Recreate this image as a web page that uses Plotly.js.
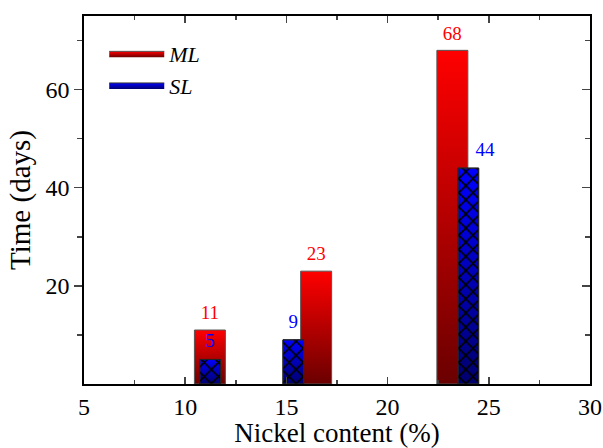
<!DOCTYPE html>
<html>
<head>
<meta charset="utf-8">
<script src="https://cdn.plot.ly/plotly-3.0.1.min.js"></script>
<style>html,body{margin:0;padding:0;background:#fff;}#chart{width:603px;height:448px;}</style>
</head>
<body>
<div id="chart"></div>
<script>
// Data
var mlX = [11.22, 16.47, 23.2];
var mlValues = [11, 23, 68];
var slX = [11.23, 15.34, 23.99];
var slValues = [5, 9, 44];
var seriesNames = ['ML', 'SL'];
var xTickVals = [5, 10, 15, 20, 25, 30];
var yTickVals = [20, 40, 60];

var mlWidth = 1.53, slWidth = 1.02;
var serif = 'Liberation Serif';

function rectX(c, w) { return [c - w/2, c - w/2, c + w/2, c + w/2, c - w/2]; }
function rectY(v) { return [0, v, v, 0, 0]; }

var traces = [];
mlX.forEach(function(c, i) {
  traces.push({
    type: 'scatter', mode: 'lines', x: rectX(c, mlWidth), y: rectY(mlValues[i]),
    fill: 'toself',
    fillgradient: {type: 'vertical', colorscale: [[0, '#6a0000'], [1, '#ff0000']]},
    line: {color: '#555555', width: 1},
    name: '<i>' + seriesNames[0] + '</i>', legendgroup: 'ML', showlegend: i === 0,
    hoverinfo: 'skip'
  });
});
slX.forEach(function(c, i) {
  traces.push({
    type: 'scatter', mode: 'lines', x: rectX(c, slWidth), y: rectY(slValues[i]),
    fill: 'toself',
    fillgradient: {type: 'vertical', colorscale: [[0, '#00006e'], [1, '#0000ff']]},
    line: {color: '#333333', width: 1},
    name: '<i>' + seriesNames[1] + '</i>', legendgroup: 'SL', showlegend: i === 0,
    hoverinfo: 'skip'
  });
  traces.push({
    type: 'scatter', mode: 'lines', x: rectX(c, slWidth), y: rectY(slValues[i]),
    fill: 'toself', fillcolor: 'rgba(0,0,0,0)',
    fillpattern: {shape: 'x', fgcolor: '#000000', bgcolor: 'rgba(0,0,0,0)', size: 10, solidity: 0.3},
    line: {color: '#222222', width: 1},
    legendgroup: 'SL', showlegend: false, hoverinfo: 'skip'
  });
});
traces.push({
  type: 'scatter', mode: 'markers+text', x: mlX, y: mlValues, text: mlValues.map(String),
  marker: {size: 8, opacity: 0},
  textposition: 'top center', textfont: {family: serif, size: 19, color: '#ff0000'},
  showlegend: false, hoverinfo: 'skip', cliponaxis: false
});
traces.push({
  type: 'scatter', mode: 'markers+text', x: slX, y: slValues, text: slValues.map(String),
  marker: {size: 10, opacity: 0},
  textposition: ['top center', 'top center', 'top right'],
  textfont: {family: serif, size: 19, color: '#0000ff'},
  showlegend: false, hoverinfo: 'skip', cliponaxis: false
});
// invisible trace to anchor right axis
traces.push({type: 'scatter', mode: 'lines', x: [5], y: [0], yaxis: 'y2', showlegend: false, hoverinfo: 'skip', line: {width: 0}});

var layout = {
  width: 603, height: 448,
  margin: {l: 84, r: 13, t: 16, b: 64},
  paper_bgcolor: '#ffffff', plot_bgcolor: '#ffffff',
  font: {family: serif, size: 23, color: '#000000'},
  showlegend: true,
  legend: {x: 0.04, y: 0.955, xanchor: 'left', yanchor: 'top', bgcolor: 'rgba(0,0,0,0)',
           font: {family: serif, size: 22}, itemwidth: 55, tracegroupgap: 0},
  xaxis: {
    range: [5, 30], tickvals: xTickVals, ticks: 'inside', ticklen: 7, tickwidth: 1.5,
    minor: {dtick: 2.5, tick0: 5, ticks: 'inside', ticklen: 4, tickwidth: 1.5, showgrid: false},
    showline: true, linewidth: 1.8, linecolor: '#000', mirror: 'ticks', showgrid: false, zeroline: false,
    tickfont: {family: serif, size: 24},
    title: {text: 'Nickel content (%)', font: {family: serif, size: 27}, standoff: 6}
  },
  yaxis: {
    range: [0, 75], tickvals: yTickVals, ticks: 'outside', ticklen: 8, tickwidth: 1.5,
    minor: {tickvals: [10, 30, 50, 70], ticks: 'outside', ticklen: 5, tickwidth: 1.5, showgrid: false},
    showline: true, linewidth: 1.8, linecolor: '#000', mirror: true, showgrid: false, zeroline: false,
    tickfont: {family: serif, size: 24},
    title: {text: 'Time (days)', font: {family: serif, size: 29}, standoff: 6}
  },
  yaxis2: {
    overlaying: 'y', side: 'right', range: [0, 75], tickvals: yTickVals, ticks: 'inside', ticklen: 8, tickwidth: 1.5,
    minor: {tickvals: [10, 30, 50, 70], ticks: 'inside', ticklen: 5, tickwidth: 1.5, showgrid: false},
    showticklabels: false, showline: false, showgrid: false, zeroline: false
  }
};

Plotly.newPlot('chart', traces, layout, {displayModeBar: false, staticPlot: true});
</script>
</body>
</html>
